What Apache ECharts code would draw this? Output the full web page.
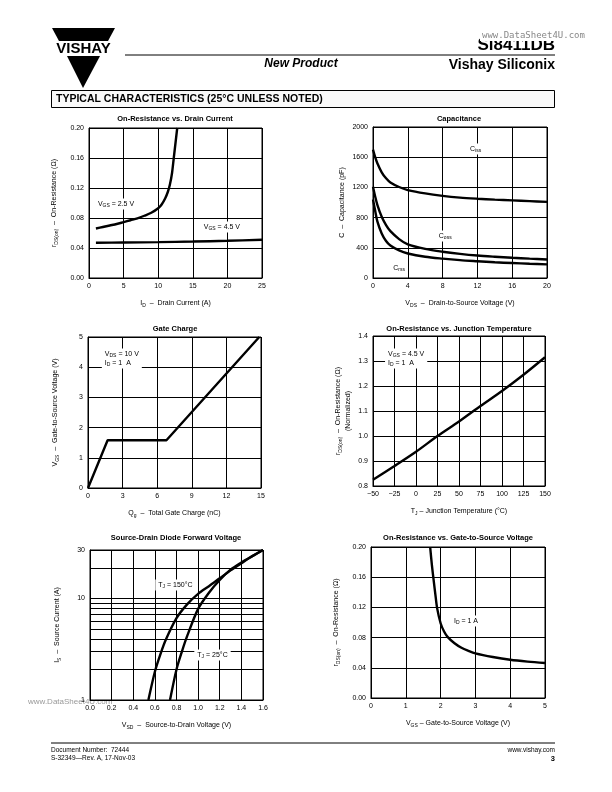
<!DOCTYPE html>
<html><head><meta charset="utf-8">
<script src="https://cdn.jsdelivr.net/npm/echarts@6/dist/echarts.min.js"></script>
<style>html,body{margin:0;padding:0;background:#fff}#c{width:612px;height:792px}</style>
</head><body><div id="c"></div>
<script>
// ---------- data ----------
const rdsId_vgs25 = [[1,0.066],[2,0.068],[3,0.070],[4,0.072],[5,0.0745],[6,0.077],[7,0.0795],[8,0.083],[9,0.087],[10,0.093],[10.5,0.098],[11,0.106],[11.4,0.115],[11.7,0.125],[12,0.14],[12.25,0.16],[12.5,0.18],[12.75,0.20]];
const rdsId_vgs45 = [[1,0.047],[5,0.0473],[10,0.0478],[15,0.0486],[20,0.0496],[25,0.051]];
const capCiss = [[0,1700],[0.25,1600],[0.5,1520],[1,1400],[1.5,1320],[2,1265],[3,1205],[4,1165],[6,1120],[8,1088],[10,1065],[12,1050],[14,1038],[16,1028],[18,1018],[20,1008]];
const capCoss = [[0,1210],[0.25,1080],[0.5,970],[1,810],[1.5,700],[2,620],[3,515],[4,445],[6,385],[8,348],[10,320],[12,298],[14,282],[16,268],[18,256],[20,246]];
const capCrss = [[0,1040],[0.25,890],[0.5,750],[1,590],[1.5,490],[2,430],[3,365],[4,325],[6,282],[8,257],[10,237],[12,222],[14,208],[16,198],[18,189],[20,181]];
const gateCharge = [[0,0],[1.7,1.58],[6.8,1.58],[14.85,5]];
const rdsTj = [[-50,0.825],[-25,0.88],[0,0.937],[25,1.0],[50,1.058],[75,1.12],[100,1.18],[125,1.245],[150,1.315]];
const diodeTj150 = [[0.54,1],[0.6,1.9],[0.65,2.8],[0.7,3.9],[0.8,6.4],[0.9,8.8],[1.0,11.1],[1.1,13.2],[1.2,15.8],[1.3,18.9],[1.4,22.2],[1.5,26],[1.6,30]];
const diodeTj25 = [[0.74,1],[0.8,2.0],[0.85,3.0],[0.9,4.3],[1.0,7.9],[1.1,11.4],[1.2,15.2],[1.3,19.2],[1.4,22.6],[1.5,26.1],[1.6,30]];
const rdsVgs = [[1.7,0.2],[1.75,0.176],[1.8,0.156],[1.85,0.137],[1.9,0.119],[2.0,0.099],[2.1,0.088],[2.2,0.081],[2.4,0.0725],[2.6,0.0665],[2.8,0.0625],[3.0,0.0592],[3.5,0.0543],[4.0,0.0506],[4.5,0.0482],[5.0,0.0464]];
const diodeGridValues = [2,3,4,5,6,7,8,9,10,20];

const chartTitles = ['On-Resistance vs. Drain Current','Capacitance','Gate Charge','On-Resistance vs. Junction Temperature','Source-Drain Diode Forward Voltage','On-Resistance vs. Gate-to-Source Voltage'];

// ---------- styles ----------
const FONT = '"Liberation Sans", Arial, sans-serif';
const rich = {
  n:{fontSize:7, fontFamily:FONT, color:'#000', lineHeight:10},
  s:{fontSize:5, fontFamily:FONT, color:'#000', lineHeight:10, verticalAlign:'bottom'}
};
const grids = [
  {left:89, top:128, width:173, height:150},
  {left:373, top:127, width:174, height:151},
  {left:88, top:337, width:173, height:151},
  {left:373, top:336, width:172, height:150},
  {left:90, top:550, width:173, height:150},
  {left:371, top:547, width:174, height:151}
].map(g=>Object.assign({show:true, borderColor:'#000', borderWidth:1, containLabel:false}, g));

function xa(i, min, max, interval, name, fmt){
  return {type:'value', gridIndex:i, min, max, interval,
    name, nameLocation:'middle', nameGap:20, nameTextStyle:{rich, fontSize:7, fontFamily:FONT},
    axisLine:{lineStyle:{color:'#000', width:1}}, axisTick:{show:false},
    axisLabel:{fontSize:7, fontFamily:FONT, color:'#000', margin:5, formatter:fmt},
    splitLine:{show:true, lineStyle:{color:'#000', width:1}}};
}
function ya(i, min, max, interval, name, fmt, gap){
  return {type:'value', gridIndex:i, min, max, interval,
    name, nameLocation:'middle', nameRotate:90, nameGap:gap||30, nameTextStyle:{rich, fontSize:7, fontFamily:FONT},
    axisLine:{lineStyle:{color:'#000', width:1}}, axisTick:{show:false},
    axisLabel:{fontSize:7, fontFamily:FONT, color:'#000', margin:5, formatter:fmt},
    splitLine:{show:true, lineStyle:{color:'#000', width:1}}};
}
const f2 = v=>v.toFixed(2), f1 = v=>v.toFixed(1), f0 = v=>String(v), fneg = v=>String(v).replace('-','\u2212');

const xAxis = [
  xa(0,0,25,5,'{n|I}{s|D}{n|  \u2013  Drain Current (A)}',f0),
  xa(1,0,20,4,'{n|V}{s|DS}{n|  \u2013  Drain-to-Source Voltage (V)}',f0),
  xa(2,0,15,3,'{n|Q}{s|g}{n|  \u2013  Total Gate Charge (nC)}',f0),
  xa(3,-50,150,25,'{n|T}{s|J}{n| \u2013 Junction Temperature (\u00b0C)}',fneg),
  xa(4,0,1.6,0.2,'{n|V}{s|SD}{n|  \u2013  Source-to-Drain Voltage (V)}',f1),
  xa(5,0,5,1,'{n|V}{s|GS}{n| \u2013 Gate-to-Source Voltage (V)}',f0)
];
const yAxis = [
  ya(0,0,0.2,0.04,'{n|r}{s|DS(on)}{n|  \u2013  On-Resistance (\u03a9)}',f2,30),
  ya(1,0,2000,400,'{n|C  \u2013  Capacitance (pF)}',f0,26),
  ya(2,0,5,1,'{n|V}{s|GS}{n|  \u2013  Gate-to-Source Voltage (V)}',f0,28),
  ya(3,0.8,1.4,0.1,'{n|r}{s|DS(on)}{n|  \u2013  On-Resistance (\u03a9)}\n{n|(Normalized)}',f1,20),
  Object.assign(ya(4,1,30,null,'{n|I}{s|S}{n|  \u2013  Source Current (A)}',f0,28),{type:'log', logBase:10, interval:undefined}),
  ya(5,0,0.2,0.04,'{n|r}{s|DS(on)}{n|  \u2013  On-Resistance (\u03a9)}',f2,30)
];

const labRich = {
  n:{fontSize:7, fontFamily:FONT, color:'#000', lineHeight:9},
  s:{fontSize:5, fontFamily:FONT, color:'#000', lineHeight:9, verticalAlign:'bottom'}
};
function note(coord, text, pos){
  return {coord, symbol:'rect', symbolSize:0, itemStyle:{color:'transparent'},
    label:{show:true, position:pos||'inside', distance:0, formatter:text, rich:labRich,
      backgroundColor:'#fff', padding:[1,3,1,3], align:pos==='right'?'left':'center'}};
}
function curve(i, data, notes){
  const s = {type:'line', xAxisIndex:i, yAxisIndex:i, data, showSymbol:false, symbol:'none',
    smooth:0.3, lineStyle:{color:'#000', width:2.4}, silent:true, animation:false, z:3};
  if(notes) s.markPoint = {data:notes, z:10, silent:true, animation:false};
  return s;
}
const series = [
  curve(0, rdsId_vgs25, [note([3.9,0.0987],'{n|V}{s|GS}{n| = 2.5 V}')]),
  curve(0, rdsId_vgs45, [note([19.2,0.068],'{n|V}{s|GS}{n| = 4.5 V}')]),
  curve(1, capCiss, [note([11.8,1709],'{n|C}{s|iss}'), note([8.3,556],'{n|C}{s|oss}'), note([3.0,132],'{n|C}{s|rss}')]),
  curve(1, capCoss), curve(1, capCrss),
  Object.assign(curve(2, gateCharge, [note([1.2,4.29],'{n|V}{s|DS}{n| = 10 V}\n{n|I}{s|D}{n| = 1  A}','right')]),{smooth:false}),
  curve(3, rdsTj, [note([-36,1.31],'{n|V}{s|GS}{n| = 4.5 V}\n{n|I}{s|D}{n| = 1  A}','right')]),
  Object.assign(curve(4, diodeTj150, [note([0.79,13.6],'{n|T}{s|J}{n| = 150\u00b0C}'), note([1.133,2.77],'{n|T}{s|J}{n| = 25\u00b0C}')]),
    {markLine:{silent:true, symbol:'none', animation:false, z:1, label:{show:false},
      lineStyle:{color:'#000', width:1, type:'solid'}, data:diodeGridValues.map(v=>({yAxis:v}))}}),
  curve(4, diodeTj25),
  curve(5, rdsVgs, [note([2.73,0.102],'{n|I}{s|D}{n| = 1 A}')])
];

// ---------- page furniture ----------
function txt(x,y,text,font,align,color){
  return {type:'text', x, y, silent:true, style:{text, font, fill:color||'#000', align:align||'left', verticalAlign:'middle'}};
}
const titleCenters = [[175,119],[459,119],[175,329],[459,329],[176,538],[458,538]];
const graphic = [
  {type:'polygon', shape:{points:[[52,28],[115,28],[108,41],[59,41]]}, style:{fill:'#000'}},
  {type:'polygon', shape:{points:[[67,56],[100,56],[83,88]]}, style:{fill:'#000'}},
  txt(83.5,48.5,'VISHAY','bold 15px '+FONT,'center'),
  {type:'line', shape:{x1:125,y1:55,x2:555,y2:55}, style:{stroke:'#000', lineWidth:1}},
  txt(555,45,'Si8411DB','bold 17px '+FONT,'right'),
  {type:'rect', shape:{x:480,y:30,width:96,height:11}, style:{fill:'#fff'}},
  txt(482,36,'www.DataSheet4U.com','9px "DejaVu Sans Mono", monospace','left','#888'),
  txt(301,64,'New Product','italic bold 12px '+FONT,'center'),
  txt(555,65,'Vishay Siliconix','bold 14px '+FONT,'right'),
  {type:'rect', shape:{x:51.5,y:90.5,width:503,height:17}, style:{fill:'#f9f9f9', stroke:'#000', lineWidth:1}},
  txt(56,99,'TYPICAL CHARACTERISTICS (25\u00b0C UNLESS NOTED)','bold 10.5px '+FONT,'left'),
  {type:'line', shape:{x1:51,y1:743,x2:555,y2:743}, style:{stroke:'#000', lineWidth:1}},
  txt(51,750,'Document Number:  72444','6.5px '+FONT,'left'),
  txt(51,758,'S-32349\u2014Rev. A, 17-Nov-03','6.5px '+FONT,'left'),
  txt(555,750,'www.vishay.com','6.5px '+FONT,'right'),
  txt(555,759,'3','bold 7.5px '+FONT,'right'),
  txt(28,702,'www.DataSheet4U.com','8px '+FONT,'left','#999')
].concat(chartTitles.map((t,i)=>txt(titleCenters[i][0],titleCenters[i][1],t,'bold 7.5px '+FONT,'center')));

const chart = echarts.init(document.getElementById('c'), null, {renderer:'canvas'});
chart.setOption({animation:false, backgroundColor:'#fff', grid:grids, xAxis, yAxis, series, graphic});
</script></body></html>
